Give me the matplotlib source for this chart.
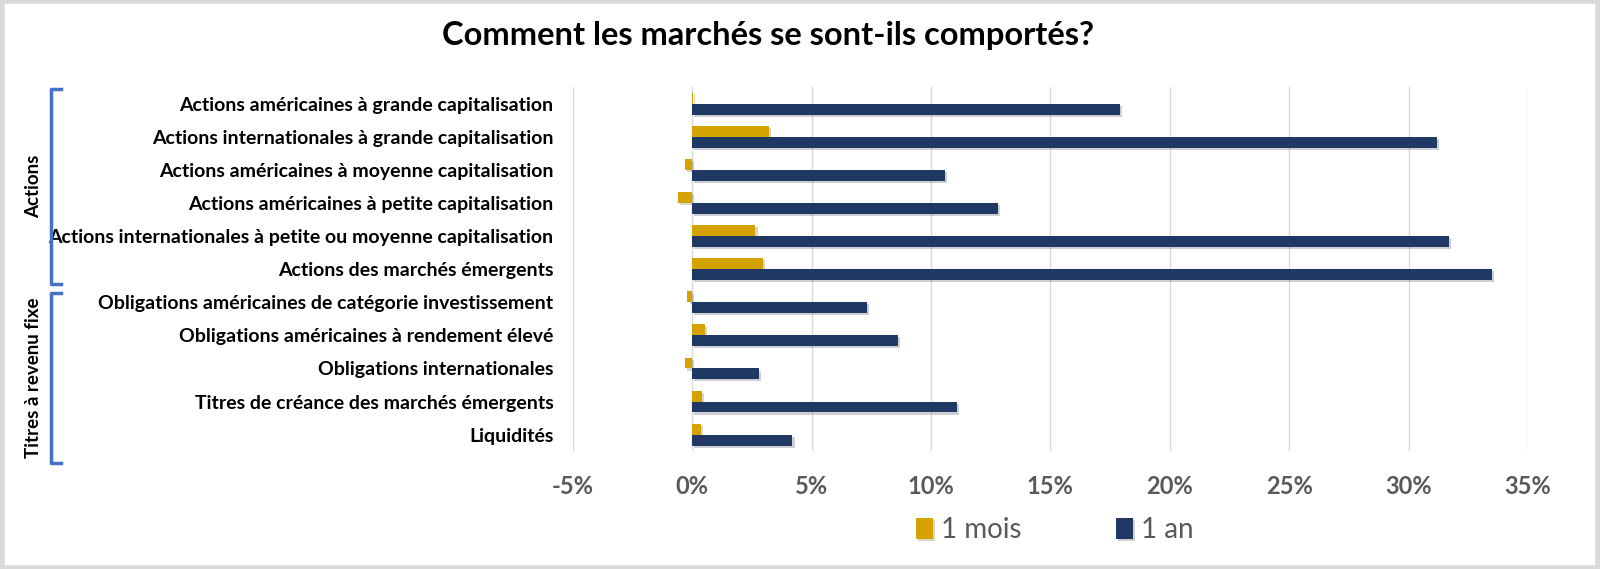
import matplotlib
matplotlib.use('Agg')
import matplotlib.pyplot as plt
import matplotlib.patheffects as pe
from matplotlib.patches import Rectangle
import numpy as np

plt.rcParams['font.family'] = ['Lato', 'DejaVu Sans']

categories = [
    'Actions américaines à grande capitalisation',
    'Actions internationales à grande capitalisation',
    'Actions américaines à moyenne capitalisation',
    'Actions américaines à petite capitalisation',
    'Actions internationales à petite ou moyenne capitalisation',
    'Actions des marchés émergents',
    'Obligations américaines de catégorie investissement',
    'Obligations américaines à rendement élevé',
    'Obligations internationales',
    'Titres de créance des marchés émergents',
    'Liquidités',
]
un_mois = [0.05, 3.2, -0.3, -0.6, 2.65, 2.95, -0.2, 0.55, -0.3, 0.4, 0.35]
un_an = [17.9, 31.2, 10.6, 12.8, 31.7, 33.5, 7.3, 8.6, 2.8, 11.1, 4.2]
ticks = [-5, 0, 5, 10, 15, 20, 25, 30, 35]
# group name, first row edge, last row edge (in row units)
groups = [('Actions', -0.44, 5.46), ('Titres à revenu fixe', 5.71, 10.87)]

gold = '#D4A300'
navy = '#1F3864'

fig = plt.figure(figsize=(16, 5.69), dpi=100)
ax = fig.add_axes([0.358, 0.207, 0.597, 0.640])

y = np.arange(len(categories))
h = 0.33
shadow = [pe.SimplePatchShadow(offset=(1.5, -1.5), alpha=0.2), pe.Normal()]
b1 = ax.barh(y - h / 2, un_mois, height=h, color=gold, label='1 mois', zorder=3)
b2 = ax.barh(y + h / 2, un_an, height=h, color=navy, label='1 an', zorder=3)
for b in list(b1) + list(b2):
    b.set_path_effects(shadow)

ax.set_ylim(len(categories) - 0.5, -0.5)
ax.set_xlim(-5, 35)
ax.set_xticks(ticks)
ax.set_xticklabels([f'{t}%' for t in ticks], fontsize=17, fontweight='bold', color='#595959')
ax.set_yticks(y)
ax.set_yticklabels(categories, fontsize=14, fontweight='bold', color='black')
ax.tick_params(length=0, axis='both')
ax.tick_params(axis='x', pad=17)
ax.tick_params(axis='y', pad=14)
ax.grid(axis='x', color='#D9D9D9', linewidth=1, zorder=0)
for s in ax.spines.values():
    s.set_visible(False)

fig.text(0.48, 0.937, 'Comment les marchés se sont-ils comportés?', ha='center', va='center',
         fontsize=23.5, fontweight='bold')

ax.legend(loc='center', bbox_to_anchor=(0.505, -0.217), ncol=2, frameon=False,
          fontsize=20, labelcolor='#595959', handlelength=0.6, handleheight=0.8,
          columnspacing=3.4, handletextpad=0.3)

# group brackets on the left
bx = 51 / 1600
ft = fig.transFigure.inverted()
for name, r0, r1 in groups:
    yt = ft.transform(ax.transData.transform((0, r0)))[1]
    yb = ft.transform(ax.transData.transform((0, r1)))[1]
    fig.add_artist(plt.Line2D([bx + 0.006, bx, bx, bx + 0.006], [yt, yt, yb, yb],
                              color='#4472C4', linewidth=2.5, transform=fig.transFigure))
    fig.text(34 / 1600, (yt + yb) / 2, name, rotation=90, ha='center', va='center',
             fontsize=13.5, fontweight='bold')

fig.add_artist(Rectangle((0.001, 0.002), 0.998, 0.996, transform=fig.transFigure,
                         fill=False, edgecolor='#D9D9D9', linewidth=4))

fig.savefig('out.png', dpi=100)
